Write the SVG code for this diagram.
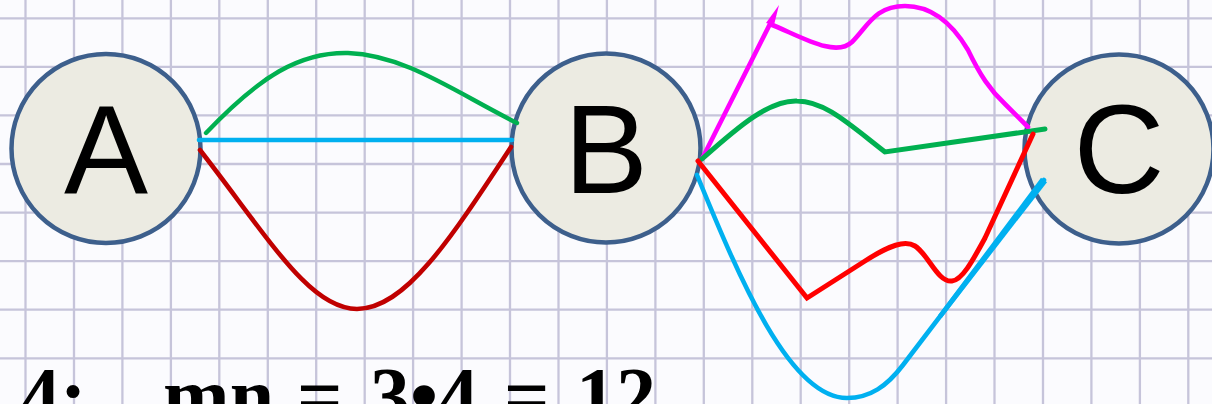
<svg xmlns="http://www.w3.org/2000/svg" width="1212" height="404" viewBox="0 0 1212 404">
<defs>
<style>
.grid line{stroke:#c6c4da;stroke-width:2.3}
.node circle{fill:#ecebe2;stroke:#3d5f8c;stroke-width:4.5}
.node text{font-family:"Liberation Sans",Arial,sans-serif;font-size:126px;fill:#000;text-anchor:middle}
.conn path,.conn line{fill:none;stroke-linecap:round;stroke-linejoin:miter}
.g{stroke:#00b050}
.c{stroke:#00b0f0}
.r{stroke:#ff0000}
.dr{stroke:#c00000}
.m{stroke:#ff00ff}
.eq{font-family:"Liberation Serif","Times New Roman",serif;font-weight:bold;font-size:80px;fill:#000}
</style>
</defs>
<rect x="0" y="0" width="1212" height="404" fill="#fbfbfe"/>
<g id="grid" class="grid">
<line x1="25.5" y1="0" x2="25.5" y2="404"/>
<line x1="74" y1="0" x2="74" y2="404"/>
<line x1="122.4" y1="0" x2="122.4" y2="404"/>
<line x1="170.9" y1="0" x2="170.9" y2="404"/>
<line x1="219.3" y1="0" x2="219.3" y2="404"/>
<line x1="267.8" y1="0" x2="267.8" y2="404"/>
<line x1="316.2" y1="0" x2="316.2" y2="404"/>
<line x1="364.7" y1="0" x2="364.7" y2="404"/>
<line x1="413.1" y1="0" x2="413.1" y2="404"/>
<line x1="461.6" y1="0" x2="461.6" y2="404"/>
<line x1="510" y1="0" x2="510" y2="404"/>
<line x1="558.5" y1="0" x2="558.5" y2="404"/>
<line x1="606.9" y1="0" x2="606.9" y2="404"/>
<line x1="655.4" y1="0" x2="655.4" y2="404"/>
<line x1="703.8" y1="0" x2="703.8" y2="404"/>
<line x1="752.3" y1="0" x2="752.3" y2="404"/>
<line x1="800.7" y1="0" x2="800.7" y2="404"/>
<line x1="849.2" y1="0" x2="849.2" y2="404"/>
<line x1="897.6" y1="0" x2="897.6" y2="404"/>
<line x1="946.1" y1="0" x2="946.1" y2="404"/>
<line x1="994.5" y1="0" x2="994.5" y2="404"/>
<line x1="1043" y1="0" x2="1043" y2="404"/>
<line x1="1091.4" y1="0" x2="1091.4" y2="404"/>
<line x1="1139.9" y1="0" x2="1139.9" y2="404"/>
<line x1="1188.3" y1="0" x2="1188.3" y2="404"/>
<line x1="0" y1="18.3" x2="1212" y2="18.3"/>
<line x1="0" y1="66.9" x2="1212" y2="66.9"/>
<line x1="0" y1="115.4" x2="1212" y2="115.4"/>
<line x1="0" y1="164" x2="1212" y2="164"/>
<line x1="0" y1="212.6" x2="1212" y2="212.6"/>
<line x1="0" y1="261.2" x2="1212" y2="261.2"/>
<line x1="0" y1="309.7" x2="1212" y2="309.7"/>
<line x1="0" y1="358.3" x2="1212" y2="358.3"/>
</g>
<g id="node-A" class="node"><circle cx="106" cy="148.5" r="94.5"/><text x="106" y="193">A</text></g>
<g id="node-B" class="node"><circle cx="606" cy="148" r="94.5"/><text x="606" y="193">B</text></g>
<g id="node-C" class="node"><circle cx="1119" cy="149" r="94.5"/><text x="1119" y="193">C</text></g>
<g id="connectors" class="conn">
<path class="g" stroke-width="4.4" d="M206,133 C260,76 300,52 348,53 C405,55 455,92 517,123"/>
<path class="c" stroke-width="4.6" d="M199,140 L512,140"/>
<path class="dr" stroke-width="4.6" d="M200,150 C270,240 310,309 357,309 C405,309 450,240 511,147"/>
<path class="m" stroke-width="4.6" d="M702,159 L770,24 C800,36 835,58 852,42 C868,26 875,6 905,6 C935,6 955,28 968,50 C980,75 990,90 1005,104 L1028,127"/>
<polygon points="766,23 779,5 774,25" fill="#ff00ff"/>
<path class="g" stroke-width="5" stroke-linecap="butt" d="M702,159 C740,125 770,100 797,101 C825,101 850,125 885,152 L1045,129"/>
<path class="r" stroke-width="5" d="M698,161 L807,298 L865,261 C890,245 905,240 915,246 C928,254 938,283 952,281 C962,280 972,262 985,238 L1033,134"/>
<path class="c" stroke-width="4.6" d="M697,175 C740,280 790,398 847,398 C870,398 887,386 903,365 L1044,180"/>
<polygon points="941.8,317.9 1047,182.2 1041,177.8 938.2,315.1" fill="#00b0f0"/>
</g>
<text class="eq" y="423"><tspan x="20">4:</tspan><tspan x="163">mn</tspan><tspan x="297">=</tspan><tspan x="370">3•4</tspan><tspan x="504">=</tspan><tspan x="576">12</tspan></text>
</svg>
